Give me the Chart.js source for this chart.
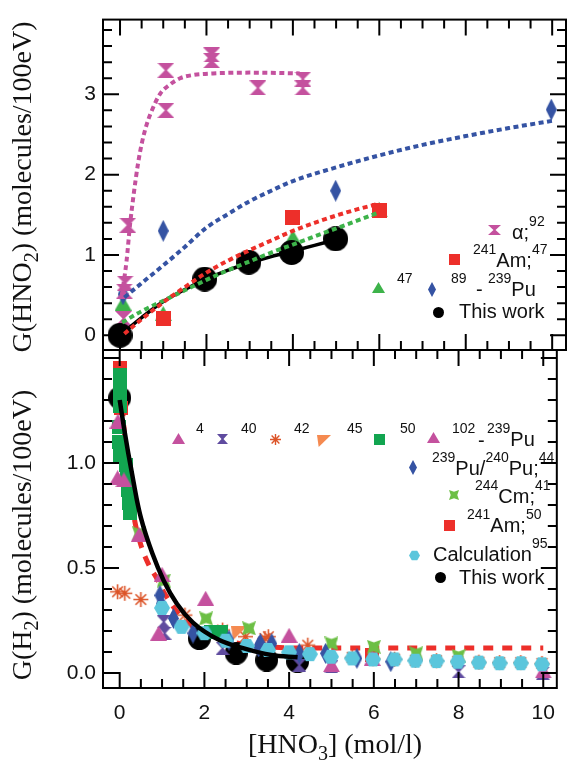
<!DOCTYPE html>
<html>
<head>
<meta charset="utf-8">
<script src="https://cdn.jsdelivr.net/npm/chart.js@4.4.0/dist/chart.umd.min.js"></script>
<style>
  body { margin: 0; background: #fff; }
  canvas { position: absolute; left: 0; top: 0; }
</style>
</head>
<body>
<canvas id="chart-hno2" width="568" height="763"></canvas>
<canvas id="chart-h2" width="568" height="763"></canvas>
<script>
// shared x range ([HNO3] mol/l)
const X_MIN = -0.394, X_MAX = 10.32;

// ---- G(HNO2) panel ----
const alpha_x = [0.12, 0.1, 0.08, 0.18, 1.06, 1.06, 2.12, 2.12, 3.19, 4.23, 4.23];
const alpha_y = [0.65, 0.55, 0.21, 1.37, 3.30, 2.80, 3.49, 3.42, 3.08, 3.19, 3.08];
const alpha_fit_x = [0.04, 0.15, 0.23, 0.31, 0.42, 0.5, 0.62, 0.73, 0.92, 1.15, 1.39, 1.69, 2.15, 3.0, 4.16];
const alpha_fit_y = [0.5, 0.92, 1.37, 1.73, 2.15, 2.38, 2.63, 2.79, 3.0, 3.12, 3.2, 3.24, 3.26, 3.27, 3.26];

const pu_x = [0.07, 1.0, 4.99, 9.98];
const pu_y = [0.51, 1.30, 1.80, 2.81];
const pu_fit_x = [0.1, 0.5, 1, 1.5, 2, 2.5, 3, 3.5, 4, 5, 6, 7, 8, 9, 10];
const pu_fit_y = [0.47, 0.65, 0.87, 1.1, 1.34, 1.51, 1.67, 1.8, 1.92, 2.09, 2.24, 2.37, 2.48, 2.58, 2.67];

const am_x = [1.0, 4.0, 6.0];
const am_y = [0.21, 1.47, 1.55];
const am_fit_x = [0.1, 0.5, 1, 1.5, 2, 2.5, 3, 3.5, 4, 4.5, 5, 5.5, 6];
const am_fit_y = [0.02, 0.2, 0.41, 0.6, 0.78, 0.93, 1.06, 1.18, 1.3, 1.4, 1.49, 1.57, 1.64];

const r47_x = [0.07, 1.0, 4.0, 6.0];
const r47_y = [0.40, 0.27, 1.22, 1.56];
const r47_fit_x = [0.05, 0.5, 1, 1.5, 2, 2.5, 3, 3.5, 4, 4.5, 5, 5.5, 6];
const r47_fit_y = [0.16, 0.3, 0.43, 0.56, 0.69, 0.81, 0.92, 1.03, 1.13, 1.23, 1.33, 1.43, 1.53];

const work_x = [0, 1.96, 2.98, 3.97, 4.99];
const work_y = [0, 0.70, 0.91, 1.03, 1.20];
const work_fit_x = [0, 0.5, 1, 1.5, 2, 2.5, 3, 3.5, 4, 4.5, 5];
const work_fit_y = [0, 0.22, 0.42, 0.57, 0.7, 0.81, 0.9, 0.98, 1.05, 1.12, 1.19];

// ---- G(H2) panel ----
const h2_work_x = [0, 1.88, 2.75, 3.47, 4.2];
const h2_work_y = [1.31, 0.165, 0.095, 0.062, 0.055];
const h2_work_fit_x = [0, 0.1, 0.2, 0.3, 0.4, 0.5, 0.77, 1.04, 1.35, 1.73, 2.35, 2.89, 3.58, 4.2];
const h2_work_fit_y = [1.3, 1.17, 1.05, 0.94, 0.83, 0.74, 0.57, 0.44, 0.33, 0.24, 0.157, 0.12, 0.086, 0.075];

const h2_am_fit_x = [0, 0.05, 0.1, 0.15, 0.2, 0.25, 0.35, 0.5, 0.7, 0.88, 1.0, 1.25, 1.5, 2, 2.5, 3, 3.5, 4, 5, 6, 7, 8, 9, 10];
const h2_am_fit_y = [1.45, 1.3, 1.17, 1.05, 0.95, 0.87, 0.73, 0.61, 0.51, 0.45, 0.4, 0.32, 0.26, 0.19, 0.155, 0.135, 0.125, 0.12, 0.12, 0.12, 0.12, 0.12, 0.12, 0.12];

const calc_x = [1.0, 1.46, 2.0, 2.5, 3.0, 3.5, 4.0, 4.49, 4.99, 5.49, 5.98, 6.49, 6.98, 7.48, 7.98, 8.48, 8.97, 9.47, 9.97];
const calc_y = [0.31, 0.22, 0.19, 0.154, 0.129, 0.11, 0.099, 0.09, 0.078, 0.07, 0.065, 0.065, 0.059, 0.057, 0.054, 0.05, 0.047, 0.047, 0.042];

const pu44_x = [0.95, 0.98, 1.27, 1.73, 2.58, 3.28, 3.32, 3.59, 4.24, 4.86, 5.6, 6.4];
const pu44_y = [0.37, 0.33, 0.26, 0.19, 0.157, 0.125, 0.14, 0.14, 0.094, 0.094, 0.07, 0.054];

const r4_x = [-0.04, -0.05, 0.1, 0.46, 1.0, 2.03, 4.0];
const r4_y = [1.2, 0.93, 0.92, 0.66, 0.47, 0.356, 0.18];
const r102_x = [0.92, 5.0, 5.96, 10.0];
const r102_y = [0.19, 0.04, 0.07, 0.01];

const r40_x = [1.04, 1.06, 2.43, 4.24, 5.0, 8.0, 9.99];
const r40_y = [0.244, 0.19, 0.118, 0.038, 0.03, 0.006, 0.0];

const r42_x = [-0.05, 0.12, 0.5, 1.54, 2.43, 2.97, 3.43, 3.51, 4.44, 5.49, 5.98, 6.49, 6.98, 7.48, 7.98, 8.48, 8.97, 9.47, 9.97];
const r42_y = [0.387, 0.38, 0.35, 0.276, 0.205, 0.173, 0.165, 0.173, 0.133, 0.075, 0.068, 0.066, 0.061, 0.059, 0.056, 0.052, 0.05, 0.05, 0.046];

const r45_x = [2.82];
const r45_y = [0.19];

const r50_x = [0, 0, 0, 0, -0.02, -0.02, 0, 0.15, 0.17, 0.2, 0.22, 0.25, 2.15, 2.4];
const r50_y = [1.42, 1.37, 1.32, 1.27, 1.17, 1.1, 1.04, 0.99, 0.93, 0.87, 0.81, 0.76, 0.195, 0.195];

const cm_x = [0.46, 1.04, 2.04, 3.05, 5.0, 6.0, 7.0, 8.0];
const cm_y = [0.665, 0.44, 0.26, 0.213, 0.141, 0.125, 0.094, 0.081];

const am50_x = [0, 0.02, 5.96];
const am50_y = [1.45, 1.26, 0.085];

// colours
const MAGENTA = '#c4519e', BLUE = '#3553a3', RED = '#ed2f2a', GREEN = '#3db34a';
const PURPLE = '#5f4b9f', RUST = '#dc5428', ORANGE = '#f58a50', DKGREEN = '#12a550';
const LTGREEN = '#6cbf45', CYAN = '#5bc6dc';
const SANS = '"Liberation Sans", Arial, sans-serif';
const SERIF = '"Liberation Serif", "Times New Roman", serif';

// small canvases used as point styles
function makeMark(w, h, paint) {
    var c = document.createElement('canvas');
    c.width = w; c.height = h;
    paint(c.getContext('2d'), w, h);
    return c;
}
function poly(col, pts) {
    return function(g) {
        g.fillStyle = col;
        g.beginPath();
        pts.forEach((p, i) => i ? g.lineTo(p[0], p[1]) : g.moveTo(p[0], p[1]));
        g.closePath();
        g.fill();
    };
}
const mark = {
    circle: (d, col) => makeMark(d, d, g => { g.fillStyle = col; g.beginPath(); g.arc(d/2, d/2, d/2, 0, 2*Math.PI); g.fill(); }),
    square: (s, col) => makeMark(s, s, g => { g.fillStyle = col; g.fillRect(0, 0, s, s); }),
    triangle: (w, col) => { var h = Math.round(w*0.87); return makeMark(w, h, poly(col, [[w/2, 0], [w, h], [0, h]])); },
    hourglass: (w, h, col) => makeMark(w, h, poly(col, [[0, 0], [w, 0], [w/2+1, h/2], [w, h], [0, h], [w/2-1, h/2]])),
    diamond: (w, h, col) => makeMark(w, h, poly(col, [[w/2, 0], [w, h/2], [w/2, h], [0, h/2]])),
    hexagon: (d, col) => {
        var p = [];
        for (var i = 0; i < 6; i++) {
            var a = Math.PI/3*i;
            p.push([d/2 + d/2*Math.cos(a), d/2 + d/2*Math.sin(a)]);
        }
        return makeMark(d, d, poly(col, p));
    },
    star4: (d, col) => { var k = d*0.17; return makeMark(d, d, poly(col, [[0, 0], [d/2, k], [d, 0], [d-k, d/2], [d, d], [d/2, d-k], [0, d], [k, d/2]])); },
    pennant: (w, h, col) => makeMark(w, h, poly(col, [[0, 0], [w, 0], [w*0.12, h]])),
    asterisk: (d, col, lw) => makeMark(d, d, g => {
        g.strokeStyle = col; g.lineWidth = lw; g.beginPath();
        for (var i = 0; i < 4; i++) {
            var a = Math.PI/4*i, dx = Math.cos(a)*(d/2-1), dy = Math.sin(a)*(d/2-1);
            g.moveTo(d/2-dx, d/2-dy); g.lineTo(d/2+dx, d/2+dy);
        }
        g.stroke();
    })
};

function pts(xs, ys) { return xs.map((x, i) => ({x: x, y: ys[i]})); }
function markSet(label, xs, ys, img) {
    return {label: label, data: pts(xs, ys), pointStyle: img, pointRadius: 6, showLine: false};
}
function lineSet(label, xs, ys, col, w, dash) {
    return {label: label, data: pts(xs, ys), showLine: true, pointRadius: 0, borderColor: col,
            borderWidth: w, borderDash: dash || [], cubicInterpolationMode: 'monotone', fill: false};
}

// text with super/subscripts, kind 1 = sup, -1 = sub
function richText(ctx, parts, x, y, size, family, center) {
    var small = Math.round(size*0.7);
    var w = 0;
    parts.forEach(p => { ctx.font = (p[1] ? small : size) + 'px ' + family; w += ctx.measureText(p[0]).width; });
    var cx = center ? x - w/2 : x;
    ctx.textAlign = 'left';
    ctx.textBaseline = 'alphabetic';
    parts.forEach(p => {
        ctx.font = (p[1] ? small : size) + 'px ' + family;
        var dy = p[1] === 1 ? -size*0.65 : (p[1] === -1 ? size*0.25 : 0);
        ctx.fillText(p[0], cx, y + dy);
        cx += ctx.measureText(p[0]).width;
    });
}

const framePlugin = {
    id: 'frame',
    afterDraw(chart, args, o) {
        var ctx = chart.ctx, a = chart.chartArea, sx = chart.scales.x, sy = chart.scales.y;
        ctx.save();
        ctx.strokeStyle = '#000';
        ctx.lineWidth = 2;
        ctx.strokeRect(a.left, a.top, a.right - a.left, a.bottom - a.top);
        ctx.beginPath();
        for (var i = Math.ceil(sx.min/o.xMinor); i*o.xMinor <= sx.max; i++) {
            var v = i*o.xMinor, px = sx.getPixelForValue(v);
            var len = Math.abs(v/o.xMajor - Math.round(v/o.xMajor)) < 1e-6 ? 16 : 9;
            ctx.moveTo(px, a.bottom); ctx.lineTo(px, a.bottom - len);
            ctx.moveTo(px, a.top); ctx.lineTo(px, a.top + len);
        }
        for (var j = Math.ceil(sy.min/o.yMinor); j*o.yMinor <= sy.max; j++) {
            var w = j*o.yMinor, py = sy.getPixelForValue(w);
            var ln = Math.abs(w/o.yMajor - Math.round(w/o.yMajor)) < 1e-6 ? 16 : 9;
            ctx.moveTo(a.left, py); ctx.lineTo(a.left + ln, py);
            ctx.moveTo(a.right, py); ctx.lineTo(a.right - ln, py);
        }
        ctx.stroke();
        ctx.restore();
    }
};

const labelPlugin = {
    id: 'labels',
    afterDraw(chart, args, o) {
        var ctx = chart.ctx;
        ctx.save();
        ctx.fillStyle = '#111';
        (o.titles || []).forEach(t => {
            ctx.save();
            ctx.translate(t.x, t.y);
            if (t.rotate) ctx.rotate(-Math.PI/2);
            richText(ctx, t.parts, 0, 0, 28, SERIF, true);
            ctx.restore();
        });
        (o.keys || []).forEach(k => {
            if (k.mark) ctx.drawImage(k.mark, Math.round(k.mx - k.mark.width/2), Math.round(k.my - k.mark.height/2));
            (k.texts || []).forEach(t => richText(ctx, t.parts, t.x, t.y + 7, 20, SANS, false));
        });
        ctx.restore();
    }
};

function yAxis(min, max, step, fmt) {
    return {
        min: min, max: max,
        afterFit: s => { s.width = 103; },
        grid: {display: false, drawTicks: false},
        border: {display: false},
        ticks: {stepSize: step, includeBounds: false, padding: 7, color: '#111',
                font: {size: 21, family: SANS}, callback: fmt}
    };
}

// top panel
new Chart(document.getElementById('chart-hno2'), {
    type: 'scatter',
    data: {
        datasets: [
            lineSet('241Am fit', am_fit_x, am_fit_y, RED, 4, [5, 3.5]),
            lineSet('47 fit', r47_fit_x, r47_fit_y, GREEN, 4, [5, 3.5]),
            lineSet('Pu fit', pu_fit_x, pu_fit_y, BLUE, 4, [5, 3.5]),
            lineSet('alpha fit', alpha_fit_x, alpha_fit_y, MAGENTA, 4, [5, 3.5]),
            lineSet('This work fit', work_fit_x, work_fit_y, '#000', 3.5),
            markSet('This work', work_x, work_y, mark.circle(25, '#000')),
            markSet('α;92', alpha_x, alpha_y, mark.hourglass(17, 15, MAGENTA)),
            markSet('89 - 239Pu', pu_x, pu_y, mark.diamond(11, 22, BLUE)),
            markSet('241Am;47', am_x, am_y, mark.square(15, RED)),
            markSet('47', r47_x, r47_y, mark.triangle(17, GREEN))
        ]
    },
    options: {
        responsive: false, animation: false, events: [],
        layout: {autoPadding: false, padding: {top: 13, right: 2, bottom: 413, left: 0}},
        scales: {
            x: {type: 'linear', min: X_MIN, max: X_MAX, display: false},
            y: yAxis(-0.183, 3.93, 1, v => String(v))
        },
        plugins: {
            legend: {display: false},
            tooltip: {enabled: false},
            frame: {xMajor: 2, xMinor: 0.5, yMajor: 1, yMinor: 0.2},
            labels: {
                titles: [{parts: [['G(HNO', 0], ['2', -1], [') (molecules/100eV)', 0]], x: 31, y: 187, rotate: true}],
                keys: [
                    {mark: mark.hourglass(13, 10, MAGENTA), mx: 494, my: 230, texts: [{parts: [['α;', 0], ['92', 1]], x: 512, y: 232}]},
                    {mark: mark.square(11, RED), mx: 454, my: 259, texts: [{parts: [['241', 1], ['Am;', 0], ['47', 1]], x: 473, y: 260}]},
                    {mark: mark.triangle(13, GREEN), mx: 378, my: 287, texts: [{parts: [['47', 1]], x: 397, y: 289}]},
                    {mark: mark.diamond(8, 15, BLUE), mx: 432, my: 289, texts: [{parts: [['89', 1]], x: 451, y: 289},
                        {parts: [['-', 0]], x: 476, y: 289}, {parts: [['239', 1], ['Pu', 0]], x: 488, y: 289}]},
                    {mark: mark.circle(11, '#000'), mx: 438, my: 312, texts: [{parts: [['This work', 0]], x: 459, y: 311}]}
                ]
            }
        }
    },
    plugins: [framePlugin, labelPlugin]
});

// bottom panel
new Chart(document.getElementById('chart-h2'), {
    type: 'scatter',
    data: {
        datasets: [
            lineSet('This work fit', h2_work_fit_x, h2_work_fit_y, '#000', 4.5),
            markSet('Calculation95', calc_x, calc_y, mark.hexagon(16, CYAN)),
            markSet('239Pu/240Pu;44', pu44_x, pu44_y, mark.diamond(11, 21, BLUE)),
            markSet('4', r4_x, r4_y, mark.triangle(17, MAGENTA)),
            markSet('102', r102_x, r102_y, mark.triangle(17, MAGENTA)),
            markSet('244Cm;41', cm_x, cm_y, mark.star4(14, LTGREEN)),
            markSet('45', r45_x, r45_y, mark.pennant(16, 14, ORANGE)),
            markSet('50', r50_x, r50_y, mark.square(14, DKGREEN)),
            markSet('241Am;50', am50_x, am50_y, mark.square(14, RED)),
            markSet('40', r40_x, r40_y, mark.hourglass(14, 13, PURPLE)),
            markSet('42', r42_x, r42_y, mark.asterisk(17, RUST, 1.6)),
            markSet('This work', h2_work_x, h2_work_y, mark.circle(23, '#000')),
            lineSet('241Am fit', h2_am_fit_x, h2_am_fit_y, RED, 5, [10, 9])
        ]
    },
    options: {
        responsive: false, animation: false, events: [],
        layout: {autoPadding: false, padding: {top: 350, right: 2, bottom: 0, left: 0}},
        scales: {
            x: {
                type: 'linear', min: X_MIN, max: X_MAX, position: 'bottom',
                afterFit: s => { s.height = 75; },
                grid: {display: false, drawTicks: false},
                border: {display: false},
                ticks: {stepSize: 2, includeBounds: false, padding: 13, color: '#111', font: {size: 21, family: SANS}}
            },
            y: yAxis(-0.071, 1.538, 0.5, v => (v > 1.2 ? '' : v.toFixed(1)))
        },
        plugins: {
            legend: {display: false},
            tooltip: {enabled: false},
            frame: {xMajor: 2, xMinor: 0.5, yMajor: 0.5, yMinor: 0.1},
            labels: {
                titles: [
                    {parts: [['G(H', 0], ['2', -1], [') (molecules/100eV)', 0]], x: 31, y: 535, rotate: true},
                    {parts: [['[HNO', 0], ['3', -1], ['] (mol/l)', 0]], x: 335, y: 753, rotate: false}
                ],
                keys: [
                    {mark: mark.triangle(13, MAGENTA), mx: 178, my: 438, texts: [{parts: [['4', 1]], x: 196, y: 439}]},
                    {mark: mark.hourglass(11, 10, PURPLE), mx: 222, my: 439, texts: [{parts: [['40', 1]], x: 241, y: 439}]},
                    {mark: mark.asterisk(13, RUST, 1.4), mx: 275, my: 439, texts: [{parts: [['42', 1]], x: 294, y: 439}]},
                    {mark: mark.pennant(14, 12, ORANGE), mx: 324, my: 441, texts: [{parts: [['45', 1]], x: 347, y: 439}]},
                    {mark: mark.square(11, DKGREEN), mx: 379, my: 439, texts: [{parts: [['50', 1]], x: 400, y: 439}]},
                    {mark: mark.triangle(13, MAGENTA), mx: 433, my: 437, texts: [{parts: [['102', 1]], x: 452, y: 439},
                        {parts: [['-', 0]], x: 478, y: 440}, {parts: [['239', 1], ['Pu', 0]], x: 487, y: 439}]},
                    {mark: mark.diamond(8, 15, BLUE), mx: 413, my: 467, texts: [{parts: [['239', 1], ['Pu/', 0], ['240', 1], ['Pu;', 0], ['44', 1]], x: 432, y: 468}]},
                    {mark: mark.star4(10, LTGREEN), mx: 454, my: 495, texts: [{parts: [['244', 1], ['Cm;', 0], ['41', 1]], x: 475, y: 496}]},
                    {mark: mark.square(11, RED), mx: 449, my: 525, texts: [{parts: [['241', 1], ['Am;', 0], ['50', 1]], x: 467, y: 525}]},
                    {mark: mark.hexagon(11, CYAN), mx: 414, my: 555, texts: [{parts: [['Calculation', 0], ['95', 1]], x: 433, y: 554}]},
                    {mark: mark.circle(11, '#000'), mx: 440, my: 577, texts: [{parts: [['This work', 0]], x: 459, y: 577}]}
                ]
            }
        }
    },
    plugins: [framePlugin, labelPlugin]
});
</script>
</body>
</html>
